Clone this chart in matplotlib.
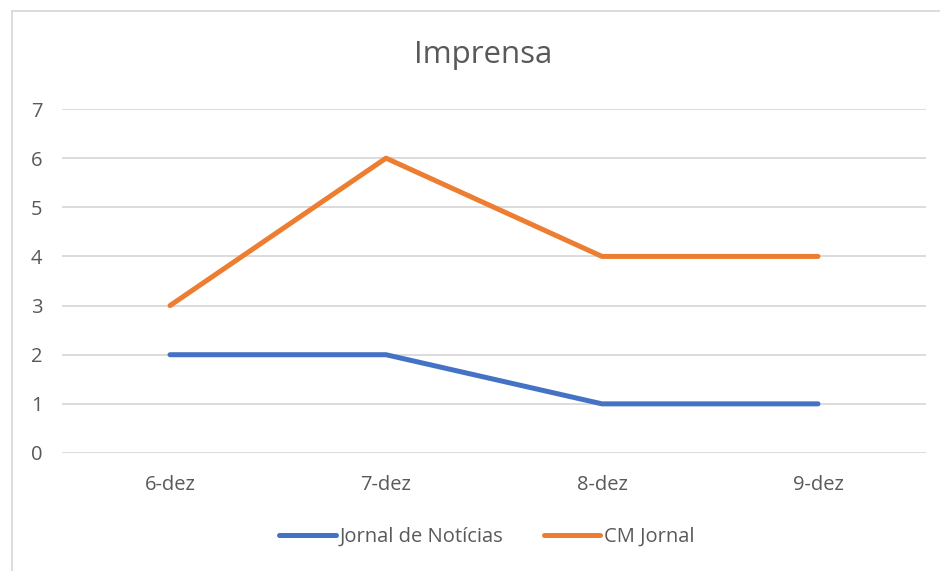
import matplotlib
matplotlib.use("Agg")
import matplotlib.pyplot as plt
from matplotlib.lines import Line2D

plt.rcParams['font.family'] = ['Open Sans', 'DejaVu Sans']

categories = ["6-dez", "7-dez", "8-dez", "9-dez"]
jn = [2, 2, 1, 1]
cm = [3, 6, 4, 4]
title = "Imprensa"

fig = plt.figure(figsize=(9.4, 5.71), dpi=100)
ax = fig.add_axes([62/940, 1-453/571, 864/940, 344/571])

x = list(range(len(categories)))
ax.plot(x, jn, color="#4472C4", lw=3.6, solid_capstyle="round", label="Jornal de Notícias", zorder=3)
ax.plot(x, cm, color="#ED7D31", lw=3.6, solid_capstyle="round", label="CM Jornal", zorder=3)

ax.set_xlim(-0.5, 3.5)
ax.set_ylim(0, 7)
ax.set_yticks(range(0, 8))
ax.set_xticks(x)
ax.set_xticklabels(categories)
for s in ax.spines.values():
    s.set_visible(False)
ax.grid(axis="y", color="#D9D9D9", lw=1.3)
ax.tick_params(length=0, colors="#595959", labelsize=14.5)
ax.tick_params(axis="y", pad=14)
ax.tick_params(axis="x", pad=16)

fig.text(483/940, 1-55/571, title, ha="center", va="center", fontsize=22.5, color="#595959")

leg = fig.legend(loc="center", bbox_to_anchor=(487/940, 1-537/571), ncol=2, frameon=False,
                 fontsize=14.5, handlelength=2.8, handletextpad=0.2, columnspacing=2.0)
for t in leg.get_texts():
    t.set_color("#595959")

# outer chart border (left and top)
fig.add_artist(Line2D([11.5/940, 11.5/940], [0, 1-10.5/571], transform=fig.transFigure, color="#D9D9D9", lw=1.3))
fig.add_artist(Line2D([11.5/940, 1], [1-10.5/571, 1-10.5/571], transform=fig.transFigure, color="#D9D9D9", lw=1.3))

fig.savefig("out.png", dpi=100)
